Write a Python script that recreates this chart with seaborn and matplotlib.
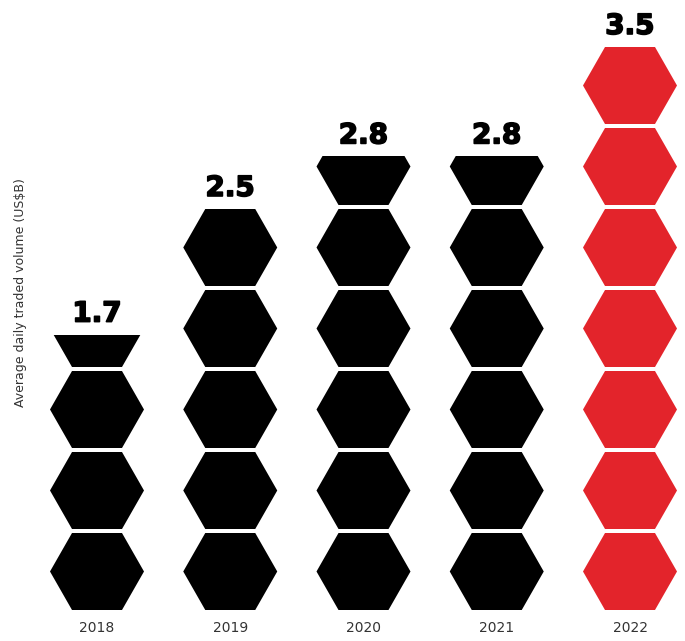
import matplotlib
matplotlib.use('Agg')
import matplotlib.pyplot as plt
import matplotlib.patheffects as pe
from matplotlib.patches import Polygon, Rectangle
import seaborn as sns

# data
years = ['2018', '2019', '2020', '2021', '2022']
volume = [1.7, 2.5, 2.8, 2.8, 3.5]   # average daily traded volume, US$B
unit = 0.5                            # one hexagon = 0.5 US$B
bar_colors = ['#000000', '#000000', '#000000', '#000000', '#e3242b']
ylabel = 'Average daily traded volume (US$B)'

sns.set_theme(style='white')
plt.rcParams['font.family'] = ['DejaVu Sans']

W, H = 685, 641
fig = plt.figure(figsize=(W / 100, H / 100), dpi=100)
ax = fig.add_axes([0, 31 / H, 1, 610 / H])

# pixel scale -> data units
sx = 133.25   # px per category
sy = 162.0    # px per US$B
x0 = 97
ax.set_xlim(-x0 / sx, (W - x0) / sx)
ax.set_ylim(0, 610 / sy)

a = 47 / sx        # half width (side points)
b = 25 / sx        # half width of flat top/bottom
h = 77 / sy        # hexagon height (slot is one unit)

for i, (v, c) in enumerate(zip(volume, bar_colors)):
    n_full = int(v / unit + 1e-9)
    rem = v - n_full * unit
    has_part = rem > 1e-6
    for k in range(n_full + (1 if has_part else 0)):
        base = k * unit
        verts = [(i - b, base), (i + b, base), (i + a, base + h / 2),
                 (i + b, base + h), (i - b, base + h), (i - a, base + h / 2)]
        hexa = Polygon(verts, closed=True, facecolor=c, edgecolor='none')
        ax.add_patch(hexa)
        if k == n_full:
            # partial hexagon: only the bottom slice
            clip = Rectangle((i - 1, base), 2, rem, transform=ax.transData)
            hexa.set_clip_path(clip)
    top = v if has_part else n_full * unit - (unit - h)
    ax.text(i, top + 13 / sy, f'{v:.1f}', ha='center', va='baseline',
            fontsize=20, fontweight='heavy', color='black',
            path_effects=[pe.withStroke(linewidth=1.2, foreground='black')])
    ax.text(i, -18 / sy, years[i], ha='center', va='center',
            fontsize=10, color='#333333')

ax.axis('off')
fig.text(21 / W, 1 - 293 / H, ylabel, rotation=90, ha='center', va='center',
         fontsize=9, color='#333333')

fig.savefig('out.png', dpi=100)
